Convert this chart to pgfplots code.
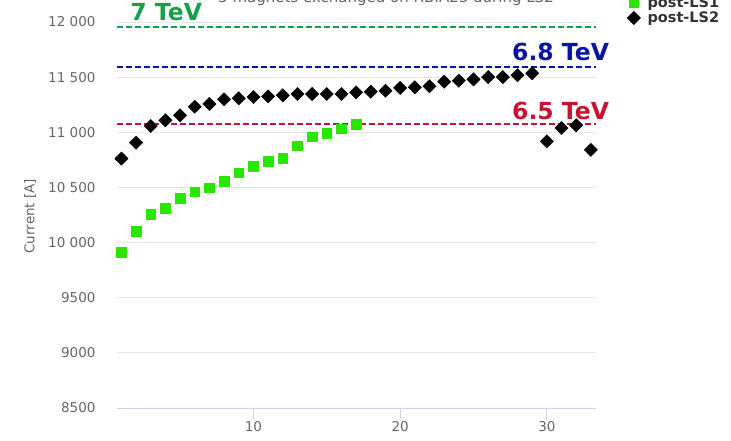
\documentclass[border=0pt]{standalone}
\usepackage{pgfplots}
\pgfplotsset{compat=1.18}
\usepackage{fontspec}
\setmainfont{DejaVu Sans}
\definecolor{lsgreen}{RGB}{22,160,74}
\definecolor{lsblue}{RGB}{10,20,160}
\definecolor{lsred}{RGB}{200,20,50}
\definecolor{mkgreen}{RGB}{40,230,0}
\definecolor{gridc}{RGB}{230,230,230}
\definecolor{axc}{RGB}{204,214,235}
\definecolor{tickc}{RGB}{102,102,102}
\definecolor{legc}{RGB}{51,51,51}
\pgfplotstableread{
x y
1 9910
2 10105
3 10257
4 10311
5 10402
6 10462
7 10498
8 10556
9 10634
10 10694
11 10740
12 10767
13 10879
14 10960
15 10991
16 11033
17 11073
}\lsone
\pgfplotstableread{
x y
1 10762
2 10906
3 11057
4 11109
5 11154
6 11232
7 11257
8 11299
9 11308
10 11320
11 11326
12 11335
13 11347
14 11347
15 11347
16 11347
17 11362
18 11368
19 11377
20 11402
21 11408
22 11417
23 11459
24 11468
25 11480
26 11501
27 11501
28 11517
29 11535
30 10918
31 11039
32 11063
33 10840
}\lstwo
\begin{document}
\begin{tikzpicture}[x=1pt,y=1pt]
\path[use as bounding box, clip] (0,0) rectangle (731,440);
\begin{axis}[
  at={(117pt,32pt)}, anchor=south west,
  scale only axis, width=479pt, height=386pt,
  xmin=0.7, xmax=33.35, ymin=8500, ymax=12000,
  clip=false, scaled y ticks=false, scaled x ticks=false,
  axis x line*=bottom, axis y line*=left,
  x axis line style={draw=axc, line width=1pt, -},
  y axis line style={draw=none},
  xtick={10,20,30}, xticklabels={10,20,30},
  ytick={8500,9000,9500,10000,10500,11000,11500,12000},
  yticklabels={8500,9000,9500,10 000,10 500,11 000,11 500,12 000},
  ymajorgrids, grid style={gridc, line width=1pt},
  tick align=outside,
  major tick length=11pt,
  x tick style={axc, line width=1pt},
  y tick style={draw=none}, 
  tick label style={font=\fontsize{13.5}{16}\selectfont, text=tickc},
  yticklabel style={anchor=east, xshift=-7pt},
  xticklabel style={anchor=center, yshift=-8pt},
  every axis y label/.style={at={(axis description cs:-0.1816,0.497)}, rotate=90, anchor=center, font=\fontsize{13.5}{16}\selectfont, text=tickc},
  ylabel={Current [A]},
  legend style={at={(1.0585,0.985)}, anchor=south west, draw=none, fill=none,
    font=\bfseries\fontsize{14.5}{16}\selectfont, text=legc, row sep=0pt,
    nodes={inner sep=1.5pt}},
  legend cell align=left,
  legend image code/.code={\path (0pt,0pt) (16pt,0pt); \draw[#1] plot coordinates {(4pt,0pt)};},
]
\addplot[only marks, mark=square*, mark size=4.8pt, color=mkgreen, mark options={draw=mkgreen, fill=mkgreen}] table {\lsone};
\addlegendentry{post-LS1}
\addplot[only marks, mark=square*, mark size=4.7pt, color=black, mark options={rotate=45, fill=black}] table {\lstwo};
\addlegendentry{post-LS2}
\addplot[lsgreen, line width=1.8pt, dash pattern=on 6pt off 3pt, forget plot] coordinates {(0.7,11955) (33.35,11955)};
\addplot[lsblue, line width=1.8pt, dash pattern=on 6pt off 3pt, forget plot] coordinates {(0.7,11595) (33.35,11595)};
\addplot[lsred, line width=1.8pt, dash pattern=on 6pt off 3pt, forget plot] coordinates {(0.7,11075) (33.35,11075)};
\node[anchor=base west, inner sep=0, text=lsgreen, font=\bfseries\fontsize{23.5}{26}\selectfont] at (axis cs:1.6,12018) {7 TeV};
\node[anchor=base east, inner sep=0, text=lsblue, font=\bfseries\fontsize{23.5}{26}\selectfont] at (axis cs:34.25,11655) {6.8 TeV};
\node[anchor=base east, inner sep=0, text=lsred, font=\bfseries\fontsize{23.5}{26}\selectfont] at (axis cs:34.25,11112) {6.5 TeV};
\end{axis}
\node[anchor=base, inner sep=0, text=tickc, font=\fontsize{15}{18}\selectfont] at (386,437) {5 magnets exchanged on RB.A23 during LS2};
\end{tikzpicture}
\end{document}
